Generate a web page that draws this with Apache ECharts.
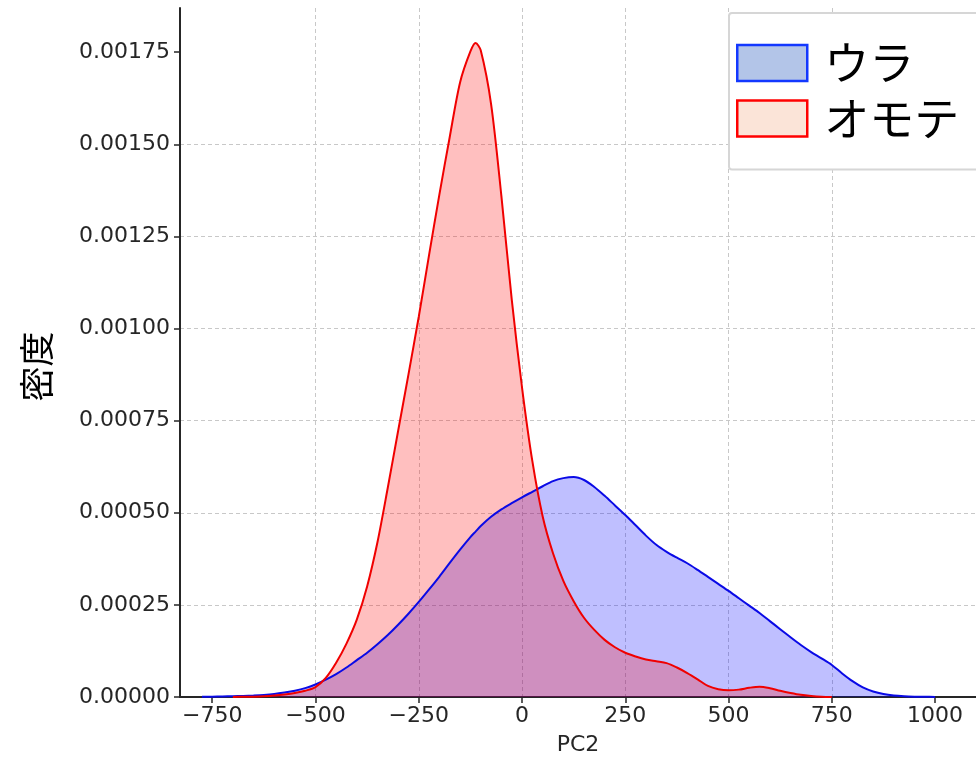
<!DOCTYPE html>
<html>
<head>
<meta charset="utf-8">
<script src="https://cdn.jsdelivr.net/npm/echarts@6/dist/echarts.min.js"></script>
<style>html,body{margin:0;padding:0;background:#fff;}#chart{width:976px;height:761px;}</style>
</head>
<body>
<div id="chart"></div>
<script>
// PC2 sample positions
const pc2 = [-775,-750,-725,-700,-675,-650,-625,-600,-575,-550,-525,-500,-475,-450,-425,-400,-375,-350,-325,-300,-275,-250,-225,-200,-175,-150,-125,-112.5,-100,-75,-50,-25,0,25,50,75,100,125,150,175,200,225,250,275,300,325,350,375,400,425,450,475,500,525,550,575,600,625,650,675,700,725,750,775,800,825,850,875,900,925,950,975,1000];
// density of ウラ
const uraDensity = [0.0000007,0.000001,0.0000015,0.000002,0.000003,0.000004,0.0000055,0.000008,0.000012,0.000017,0.000024,0.000034,0.000047,0.000062,0.00008,0.0001,0.00012,0.000143,0.000168,0.000196,0.000226,0.000258,0.000292,0.000327,0.000364,0.0004,0.000434,0.000449,0.000464,0.000489,0.000509,0.000526,0.000542,0.000557,0.000572,0.000586,0.000594,0.000597,0.000589,0.00057,0.000546,0.00052,0.000494,0.000466,0.000438,0.000413,0.000394,0.000378,0.000363,0.000345,0.000326,0.000307,0.000288,0.000268,0.000248,0.000228,0.000206,0.000184,0.000162,0.000141,0.000122,0.000105,0.000087,0.000064,0.000043,0.000026,0.000015,0.000008,0.000004,0.000002,0.000001,0.0000005,0.0000002];
// density of オモテ (null = outside its curve)
const omoteDensity = [null,null,null,0.0000002,0.0000005,0.000001,0.000002,0.000004,0.000007,0.000011,0.000017,0.000027,0.000052,0.000093,0.000145,0.00021,0.0003,0.00042,0.000568,0.000722,0.000875,0.001032,0.0012,0.001364,0.00152,0.001668,0.001752,0.001775,0.001755,0.00161,0.00136,0.00108,0.00084,0.00064,0.00049,0.00039,0.000315,0.00026,0.000215,0.000182,0.000155,0.000135,0.00012,0.00011,0.000102,0.000097,0.000092,0.00008,0.000065,0.000048,0.00003,0.000021,0.000018,0.00002,0.000025,0.000028,0.000024,0.000017,0.000011,0.000006,0.000003,0.000001,0,null,null,null,null,null,null,null,null,null,null];
const xTicks = [-750,-500,-250,0,250,500,750,1000];
const yTicks = [0,0.00025,0.0005,0.00075,0.001,0.00125,0.0015,0.00175];
const seriesNames = ['ウラ','オモテ'];

function pairs(vals){
  const out = [];
  for (let i = 0; i < pc2.length; i++) if (vals[i] !== null) out.push([pc2[i], vals[i]]);
  return out;
}
const tickFont = {fontFamily:'DejaVu Sans', fontSize:22, color:'#262626'};
const chart = echarts.init(document.getElementById('chart'), null, {renderer:'canvas'});
chart.setOption({
  animation:false,
  backgroundColor:'#ffffff',
  grid:{left:180, right:0, top:8, bottom:58.5, containLabel:false},
  legend:{
    orient:'vertical', left:729, top:13,
    padding:[25,40,26,7],
    backgroundColor:'#ffffff', borderColor:'#d6d6d6', borderWidth:2, borderRadius:3,
    itemWidth:70, itemHeight:36, itemGap:5.5,
    icon:'rect',
    textStyle:{fontFamily:'Noto Sans CJK JP', fontSize:45, color:'#000', lineHeight:50, padding:[0,0,0,12]},
    data:[
      {name:seriesNames[0], icon:'rect', itemStyle:{color:'#b3c5e8', borderColor:'#1338ff', borderWidth:2.5}},
      {name:seriesNames[1], icon:'rect', itemStyle:{color:'#fbe4d8', borderColor:'#ff0000', borderWidth:2.5}}
    ]
  },
  xAxis:{
    type:'value', min:-828, max:1099, minInterval:250, maxInterval:250,
    name:'PC2', nameLocation:'middle', nameGap:37,
    nameTextStyle:{fontFamily:'DejaVu Sans', fontSize:22, color:'#262626'},
    axisLine:{show:true, onZero:false, lineStyle:{color:'#262626', width:2}},
    axisTick:{show:true, length:6, lineStyle:{color:'#262626', width:1.5}, customValues:xTicks},
    axisLabel:Object.assign({margin:8, customValues:xTicks,
      formatter:function(v){ return xTicks.indexOf(v) < 0 ? '' : String(v).replace('-', '\u2212'); }}, tickFont),
    splitLine:{show:true, showMinLine:false, showMaxLine:false, lineStyle:{color:'#c8c8c8', type:[4,3], width:1}}
  },
  yAxis:{
    type:'value', min:0, max:0.00187, interval:0.00025,
    name:'密度', nameLocation:'middle', nameGap:126,
    nameTextStyle:{fontFamily:'Noto Sans CJK JP', fontSize:35, color:'#000', padding:[0,28,0,0]},
    axisLine:{show:true, onZero:false, lineStyle:{color:'#262626', width:2}},
    axisTick:{show:true, length:6, lineStyle:{color:'#262626', width:1.5}, customValues:yTicks},
    axisLabel:Object.assign({margin:10, customValues:yTicks,
      formatter:function(v){ return v.toFixed(5); }}, tickFont),
    splitLine:{show:true, showMinLine:false, showMaxLine:false, lineStyle:{color:'#c8c8c8', type:[4,3], width:1}}
  },
  series:[
    {name:seriesNames[0], type:'line', data:pairs(uraDensity), smooth:0.3, symbol:'none',
     lineStyle:{color:'#0a0ae6', width:2}, itemStyle:{color:'#0a0ae6'},
     areaStyle:{color:'rgba(0,0,255,0.25)', opacity:1, origin:'start'}},
    {name:seriesNames[1], type:'line', data:pairs(omoteDensity), smooth:0.3, symbol:'none',
     lineStyle:{color:'#f00000', width:2}, itemStyle:{color:'#f00000'},
     areaStyle:{color:'rgba(255,0,0,0.25)', opacity:1, origin:'start'}}
  ]
});
</script>
</body>
</html>
